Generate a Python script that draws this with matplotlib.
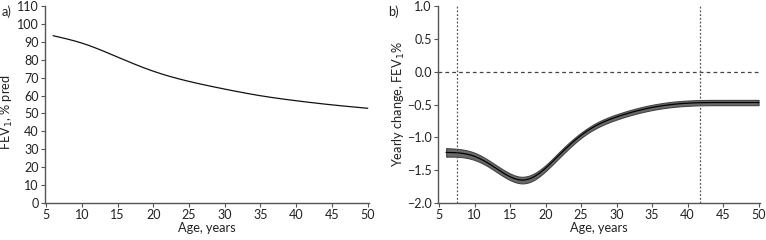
import numpy as np
import matplotlib
matplotlib.use("Agg")
import matplotlib.pyplot as plt

plt.rcParams['font.family'] = ['Lato', 'DejaVu Sans']

# Panel a data
age_a = [6, 10, 15, 20, 25, 30, 35, 40, 45, 50]
fev_a = [93.4, 89.3, 81.5, 73.6, 67.9, 63.6, 59.9, 57.1, 54.8, 52.9]

# Panel b data
age_b = [6, 7.5, 10, 12, 14, 15, 16.5, 18, 20, 22, 25, 27.5, 30, 35, 40, 45, 50]
chg_b = [-1.23, -1.235, -1.29, -1.40, -1.54, -1.60, -1.65, -1.62, -1.47, -1.26, -0.97, -0.80, -0.69, -0.545, -0.48, -0.47, -0.47]
half_ci = [0.065, 0.06, 0.055, 0.05, 0.05, 0.05, 0.05, 0.05, 0.045, 0.045, 0.04, 0.04, 0.04, 0.04, 0.04, 0.04, 0.04]
vlines_b = [7.5, 41.8]

xticks = [5, 10, 15, 20, 25, 30, 35, 40, 45, 50]
yticks_a = list(range(0, 111, 10))
yticks_b = [-2.0, -1.5, -1.0, -0.5, 0.0, 0.5, 1.0]


def smooth(x, y, n=400):
    """Natural cubic spline through the points."""
    x = np.asarray(x, float); y = np.asarray(y, float)
    nn = len(x)
    h = np.diff(x)
    A = np.zeros((nn, nn)); b = np.zeros(nn)
    A[0, 0] = 1; A[-1, -1] = 1
    for i in range(1, nn - 1):
        A[i, i - 1] = h[i - 1]
        A[i, i] = 2 * (h[i - 1] + h[i])
        A[i, i + 1] = h[i]
        b[i] = 6 * ((y[i + 1] - y[i]) / h[i] - (y[i] - y[i - 1]) / h[i - 1])
    M = np.linalg.solve(A, b)
    xs = np.linspace(x[0], x[-1], n)
    idx = np.clip(np.searchsorted(x, xs) - 1, 0, nn - 2)
    hi = h[idx]
    a = x[idx + 1] - xs
    c = xs - x[idx]
    ys = (M[idx] * a**3 / (6 * hi) + M[idx + 1] * c**3 / (6 * hi)
          + (y[idx] / hi - M[idx] * hi / 6) * a
          + (y[idx + 1] / hi - M[idx + 1] * hi / 6) * c)
    return xs, ys


fig = plt.figure(figsize=(7.66, 2.4), dpi=100)
W, H = 766, 240
axa = fig.add_axes([45 / W, 1 - 203 / H, (369 - 45) / W, (203 - 6) / H])
axb = fig.add_axes([438 / W, 1 - 203 / H, (760 - 438) / W, (203 - 6) / H])

spine_col = '#555555'
fs = 9.2
tfs = 9.0
for ax in (axa, axb):
    for s in ('top', 'right'):
        ax.spines[s].set_visible(False)
    for s in ('left', 'bottom'):
        ax.spines[s].set_color(spine_col)
        ax.spines[s].set_linewidth(1.0)
    ax.tick_params(direction='out', length=3, width=0.8, color=spine_col,
                   labelsize=tfs, labelcolor='#222222', pad=1.5)
    ax.set_xlim(4.85, 50.2)
    ax.set_xticks(xticks)
    ax.set_xlabel('Age, years', fontsize=fs, color='#222222', labelpad=0.5)

# Panel a
xs, ys = smooth(age_a, fev_a)
axa.plot(xs, ys, color='#111111', lw=0.9)
axa.set_ylim(0, 110)
axa.set_yticks(yticks_a)
axa.set_ylabel('FEV$_1$, % pred', fontsize=fs, color='#222222')
axa.yaxis.set_label_coords((15 - 45) / 324, 0.46)
fig.text(2 / W, 1 - 12 / H, 'a)', fontsize=fs, color='#222222', va='center')

# Panel b
xs, ys = smooth(age_b, chg_b)
_, es = smooth(age_b, half_ci)
axb.fill_between(xs, ys - es, ys + es, color='#6a6a6a', lw=0.8, edgecolor='#444444')
axb.plot(xs, ys, color='#000000', lw=0.9)
axb.axhline(0, color='#444444', lw=0.9, ls=(0, (3, 2.5)))
for v in vlines_b:
    axb.axvline(v, color='#555555', lw=0.9, ls=(0, (1.5, 1.5)))
axb.set_ylim(-2.0, 1.0)
axb.set_yticks(yticks_b)
axb.set_yticklabels(['\u22122.0', '\u22121.5', '\u22121.0', '\u22120.5', '0.0', '0.5', '1.0'])
axb.set_ylabel('Yearly change, FEV$_1$%', fontsize=fs, color='#222222')
axb.yaxis.set_label_coords((407 - 438) / 322, 0.5)
fig.text(388 / W, 1 - 12 / H, 'b)', fontsize=fs, color='#222222', va='center')

fig.savefig('out.png', dpi=100)
